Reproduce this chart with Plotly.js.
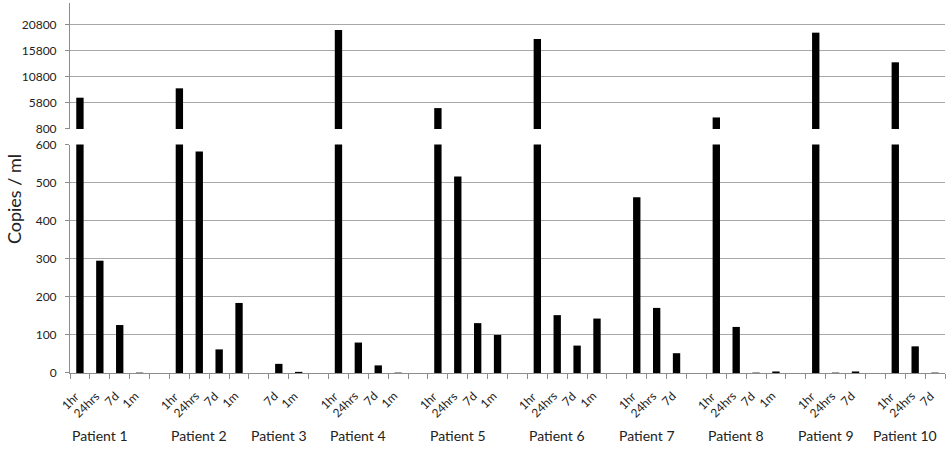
<!DOCTYPE html>
<html>
<head>
<meta charset="utf-8">
<script src="https://cdn.plot.ly/plotly-3.0.1.min.js"></script>
<style>html,body{margin:0;padding:0;background:#fff}#chart{width:950px;height:450px}</style>
</head>
<body>
<div id="chart"></div>
<script>
// ---- data ----
const patients = ['Patient 1','Patient 2','Patient 3','Patient 4','Patient 5','Patient 6','Patient 7','Patient 8','Patient 9','Patient 10'];
const tp1 = ['1hr','24hrs','7d','1m'];
const tp2 = ['1hr','24hrs','7d','1m'];
const tp3 = ['7d','1m'];
const tp4 = ['1hr','24hrs','7d','1m'];
const tp5 = ['1hr','24hrs','7d','1m'];
const tp6 = ['1hr','24hrs','7d','1m'];
const tp7 = ['1hr','24hrs','7d'];
const tp8 = ['1hr','24hrs','7d','1m'];
const tp9 = ['1hr','24hrs','7d'];
const tp10 = ['1hr','24hrs','7d'];
const v1 = [6800, 295, 126, 1];
const v2 = [8600, 582, 62, 184];
const v3 = [24, 3];
const v4 = [19800, 80, 20, 1];
const v5 = [4800, 516, 131, 100];
const v6 = [18100, 152, 72, 143];
const v7 = [462, 171, 52];
const v8 = [3000, 121, 1, 4];
const v9 = [19300, 1, 4];
const v10 = [13600, 70, 1];
const lowerTicks = [0, 100, 200, 300, 400, 500, 600];
const upperTicks = [800, 5800, 10800, 15800, 20800];

const timepoints = [tp1,tp2,tp3,tp4,tp5,tp6,tp7,tp8,tp9,tp10];
const values = [v1,v2,v3,v4,v5,v6,v7,v8,v9,v10];

// build category slots (a blank slot separates patients)
const xs = [], ys = [], labels = [], groupCenters = [];
let slot = 0;
patients.forEach((p, i) => {
  const first = slot;
  timepoints[i].forEach((t, j) => {
    xs.push(slot); ys.push(values[i][j]); labels.push(t); slot++;
  });
  groupCenters.push((first + slot - 1) / 2 - 0.5);
  if (i < patients.length - 1) slot++;
});
const nSlots = slot;

const font = 'Lato, "Open Sans", sans-serif';
const gridC = '#a8a8a8';
const lineC = '#8c8c8c';
const textC = '#222222';

const barStyle = {type: 'bar', marker: {color: '#000000'}, hoverinfo: 'x+y', showlegend: false};
const traces = [
  Object.assign({}, barStyle, {x: xs, y: ys, xaxis: 'x', yaxis: 'y'}),
  Object.assign({}, barStyle, {x: xs, y: ys, xaxis: 'x', yaxis: 'y2'})
];

// rotated category labels
const annotations = labels.map((t, k) => ({
  text: t, xref: 'x', yref: 'paper', x: xs[k] + 0.2, y: -0.038,
  xanchor: 'right', yanchor: 'top', textangle: -45, showarrow: false,
  font: {family: font, size: 12, color: textC}, borderpad: 0
}));
patients.forEach((p, i) => annotations.push({
  text: p, xref: 'x', yref: 'paper', x: groupCenters[i], y: -0.17,
  xanchor: 'center', yanchor: 'middle', showarrow: false,
  font: {family: font, size: 14, color: textC}
}));
annotations.push({
  text: 'Copies / ml', xref: 'paper', yref: 'paper', x: -0.064, y: 0.47,
  textangle: -90, showarrow: false, xanchor: 'center', yanchor: 'middle',
  font: {family: font, size: 18, color: textC}
});

const yCommon = {
  showgrid: true, gridcolor: gridC, gridwidth: 1, zeroline: false,
  showline: true, linecolor: lineC, ticks: 'outside', ticklen: 4, tickcolor: lineC,
  ticklabelstandoff: 6, tickmode: 'array',
  tickfont: {family: font, size: 12, color: textC}
};

const layout = {
  width: 950, height: 450,
  margin: {l: 70, r: 5, t: 3, b: 77},
  paper_bgcolor: '#ffffff', plot_bgcolor: '#ffffff',
  bargap: 0.63,
  font: {family: font, size: 12, color: textC},
  xaxis: {
    range: [-0.5, nSlots - 0.5], tickmode: 'array', tickvals: xs, ticktext: labels,
    showticklabels: false, ticks: '', showgrid: false, zeroline: false,
    showline: true, linecolor: lineC, linewidth: 1, anchor: 'y',
    minor: {tickmode: 'linear', tick0: -0.5, dtick: 1, ticks: 'outside', ticklen: 5, tickcolor: lineC, tickwidth: 1, showgrid: false}
  },
  yaxis: Object.assign({}, yCommon, {
    domain: [0, 0.6173], range: [0, 600], tickvals: lowerTicks, ticktext: lowerTicks.map(String)
  }),
  yaxis2: Object.assign({}, yCommon, {
    domain: [0.6597, 1], range: [800, 25000], tickvals: upperTicks, ticktext: upperTicks.map(String), anchor: 'x'
  }),
  annotations: annotations
};

Plotly.newPlot('chart', traces, layout, {displayModeBar: false, staticPlot: true});
</script>
</body>
</html>
